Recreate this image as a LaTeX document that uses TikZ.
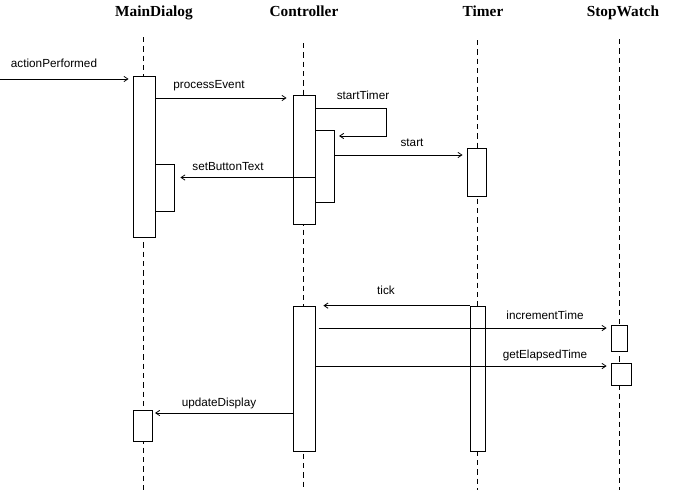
\documentclass[tikz,border=0pt]{standalone}
\usepackage{fontspec}
\setmainfont{Liberation Sans}
\newfontfamily\titlefont{Liberation Serif}
\usepackage{tikz}
\usetikzlibrary{arrows.meta,fit}

\tikzset{
  lifeline/.style={dash pattern=on 4pt off 3pt, line width=0.6pt},
  act/.style={draw, fill=white, line width=0.6pt, inner sep=0pt},
  msg/.style={line width=0.6pt, -{Straight Barb[length=3pt,width=4pt]}},
  objname/.style={anchor=base, font=\titlefont\bfseries\fontsize{11.5}{13}\selectfont},
  msglabel/.style={anchor=base, font=\fontsize{8.8}{10}\selectfont},
}

\begin{document}
\begin{tikzpicture}[x=0.75pt, y=-0.75pt]
\useasboundingbox (0,0) rectangle (673,490);

% Objects
\node[objname] (mdname) at (154,16) {MainDialog};
\node[objname] (ctlname) at (304,16) {Controller};
\node[objname] (tmname) at (483,16) {Timer};
\node[objname] (swname) at (623,16) {StopWatch};

% Lifelines
\draw[lifeline] (143,37) -- (143,490);
\draw[lifeline] (303,43) -- (303,490);
\draw[lifeline] (477,40) -- (477,490);
\draw[lifeline] (619,39) -- (619,490);

% Activations
\node[act, fit={(133,76) (155,237)}] (md1) {};
\node[act, fit={(155,164) (174,211)}] (md2) {};
\node[act, fit={(133,410) (152,441)}] (md3) {};
\node[act, fit={(293,95) (315,224)}] (ctl1) {};
\node[act, fit={(315,130) (334,202)}] (ctl2) {};
\node[act, fit={(293,306) (315,451)}] (ctl3) {};
\node[act, fit={(467,148) (486,196)}] (tm1) {};
\node[act, fit={(470,306) (485,451)}] (tm2) {};
\node[act, fit={(611,325) (627,351)}] (sw1) {};
\node[act, fit={(611,363) (631,385)}] (sw2) {};

% Message levels
\coordinate (ext) at (0,79);
\coordinate (yproc) at (0,98);
\coordinate (ystart) at (0,155);
\coordinate (yset) at (0,177.5);
\coordinate (yinc) at (0,328);
\coordinate (yget) at (0,366);
\coordinate (yupd) at (0,413);
\coordinate (loopa) at (386,108);
\coordinate (loopb) at (386,136);

% Messages
\draw[msg, shorten >=3pt] (ext) -- (md1.west |- ext);
\draw[msg, shorten >=4.5pt] (md1.east |- yproc) -- (ctl1.west |- yproc);
\draw[msg, shorten >=3.5pt] (ctl1.east |- loopa) -- (loopa) -- (loopb) -- (ctl2.east |- loopb);
\draw[msg, shorten >=3pt] (ctl2.east |- ystart) -- (tm1.west |- ystart);
\draw[msg, shorten >=4.5pt] (ctl2.west |- yset) -- (md2.east |- yset);
\draw[msg, shorten >=6pt] (tm2.north west) -- (ctl3.north east);
\draw[msg, shorten <=2.5pt, shorten >=3pt] (ctl3.east |- yinc) -- (sw1.west |- yinc);
\draw[msg, shorten >=3pt] (ctl3.east |- yget) -- (sw2.west |- yget);
\draw[msg, shorten >=2pt] (ctl3.west |- yupd) -- (md3.east |- yupd);

% Labels
\node[msglabel] (lact) at (54,67) {actionPerformed};
\node[msglabel] (lproc) at (209,88) {processEvent};
\node[msglabel] (ltimer) at (363,99) {startTimer};
\node[msglabel] (lstart) at (412,146) {start};
\node[msglabel] (lset) at (228,170) {setButtonText};
\node[msglabel] (ltick) at (386,294) {tick};
\node[msglabel] (linc) at (545,319) {incrementTime};
\node[msglabel] (lget) at (545,358) {getElapsedTime};
\node[msglabel] (lupd) at (219,406) {updateDisplay};
\end{tikzpicture}
\end{document}
